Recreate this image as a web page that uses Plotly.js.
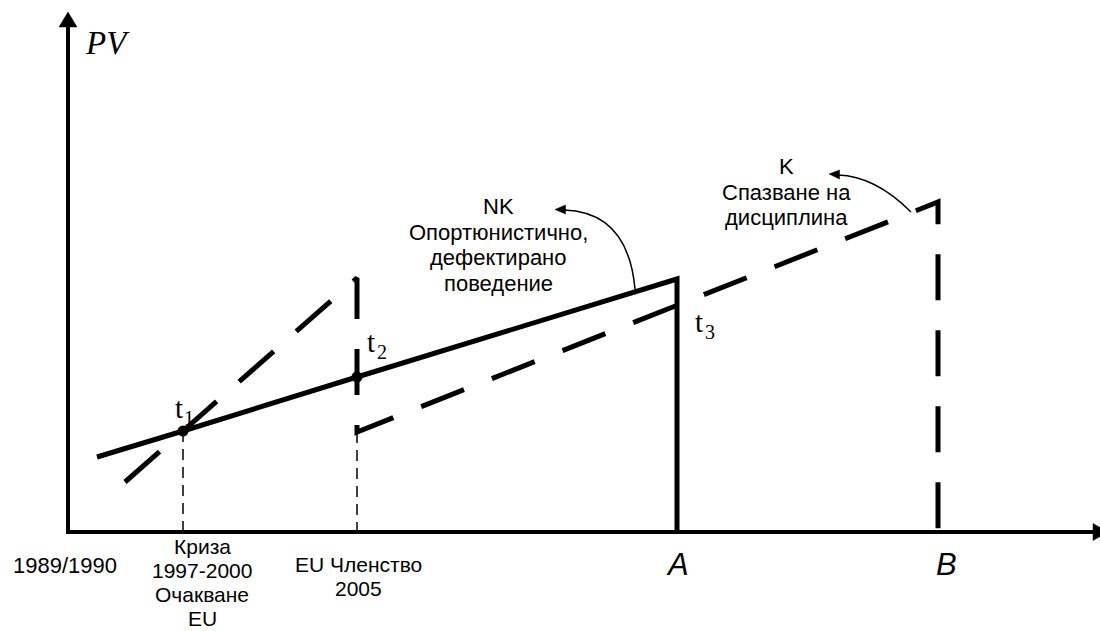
<!DOCTYPE html>
<html>
<head>
<meta charset="utf-8">
<script src="https://cdn.plot.ly/plotly-3.0.1.min.js"></script>
<style>html,body{margin:0;padding:0;background:#fff;}#chart{width:1100px;height:631px;}</style>
</head>
<body>
<div id="chart"></div>
<script>
// ---- data (conceptual units: time on x, PV on y) ----
// Solid path: NK – opportunistic, defecting behaviour
const nkX = [2.9, 11.5, 28.9, 60.9, 60.9];
const nkY = [7.5, 10.1, 15.5, 25.3, 0];
// Dashed path: K – keeping discipline
const kX = [5.7, 28.9, 28.9, 87.0, 87.0];
const kY = [5.0, 25.4, 10.0, 33.0, 0];
// Marked points t1, t2
const ptX = [11.5, 28.9];
const ptY = [10.1, 15.5];
// Thin vertical guides
const guideX = [11.5, 28.9];
const guideTop = [10.1, 10.0];
// Axis extents
const yAxisTop = 52.0;
const xAxisEnd = 104.0;
// Curved arrows (start, control, end)
const nkArrowX = [56.7, 56.0, 49.6];
const nkArrowY = [24.3, 32.0, 32.2];
const kArrowX = [84.3, 80.7, 77.0];
const kArrowY = [32.0, 35.6, 35.7];
// Text
const yTitle = 'PV';
const lbl1989 = ['1989/1990'];
const lblCrisis = ['Криза', '1997-2000', 'Очакване', 'EU'];
const lblEU = ['EU Членство', '2005'];
const lblAB = ['A', 'B'];
const nkText = ['NK', 'Опортюнистично,', 'дефектирано', 'поведение'];
const kText = ['K', 'Спазване на', 'дисциплина'];
const tBase = 't';
const tSubs = ['1', '2', '3'];

// ---- drawing ----
const SANS = 'Liberation Sans, Arial, sans-serif';
const SERIF = 'Liberation Serif, Times New Roman, serif';

const traces = [];
guideX.forEach((gx, i) => {
  traces.push({x: [gx, gx], y: [guideTop[i], 0], mode: 'lines',
    line: {color: '#000', width: 1.5, dash: '11px,7px'}, hoverinfo: 'skip'});
});
traces.push({x: kX, y: kY, mode: 'lines',
  line: {color: '#000', width: 5, dash: '46px,30px'}, hoverinfo: 'skip'});
traces.push({x: nkX, y: nkY, mode: 'lines',
  line: {color: '#000', width: 5}, hoverinfo: 'skip'});
traces.push({x: ptX, y: ptY, mode: 'markers',
  marker: {color: '#000', size: 11}, hoverinfo: 'skip'});

// shapes: axes, arrowheads, curved arrows
function tri(pts) {
  return {type: 'path', xref: 'x', yref: 'y', layer: 'above',
    path: 'M ' + pts.map(p => p[0] + ',' + p[1]).join(' L ') + ' Z',
    fillcolor: '#000', line: {color: '#000', width: 0.5}};
}
function qpath(X, Y) {
  return {type: 'path', xref: 'x', yref: 'y', layer: 'above',
    path: 'M ' + X[0] + ',' + Y[0] + ' Q ' + X[1] + ',' + Y[1] + ' ' + X[2] + ',' + Y[2],
    line: {color: '#000', width: 1.5}};
}
const shapes = [
  {type: 'line', xref: 'x', yref: 'y', x0: 0, y0: -0.2, x1: 0, y1: yAxisTop - 1.4, line: {color: '#000', width: 4}},
  {type: 'line', xref: 'x', yref: 'y', x0: -0.2, y0: 0, x1: xAxisEnd - 1.4, y1: 0, line: {color: '#000', width: 4}},
  tri([[0, yAxisTop], [-0.9, yAxisTop - 1.5], [0.9, yAxisTop - 1.5]]),
  tri([[xAxisEnd, 0], [xAxisEnd - 1.5, 0.85], [xAxisEnd - 1.5, -0.85]]),
  qpath(nkArrowX, nkArrowY),
  qpath(kArrowX, kArrowY),
  tri([[nkArrowX[2] - 0.9, nkArrowY[2] + 0.05], [nkArrowX[2] + 0.15, nkArrowY[2] + 0.5], [nkArrowX[2] + 0.15, nkArrowY[2] - 0.4]]),
  tri([[kArrowX[2] - 0.9, kArrowY[2] + 0.1], [kArrowX[2] + 0.15, kArrowY[2] + 0.5], [kArrowX[2] + 0.15, kArrowY[2] - 0.4]])
];

const ann = [];
function txt(t, x, y, size, family) {
  ann.push({x: x, y: y, xref: 'x', yref: 'y', text: t, showarrow: false,
    xanchor: 'center', yanchor: 'middle', font: {family: family, size: size, color: '#000'}});
}
txt('<i>' + yTitle + '</i>', 3.9, 48.9, 33, SERIF);
txt(lbl1989[0], -0.3, -3.3, 22, SANS);
const crisisY = [-1.4, -3.8, -6.2, -8.6];
lblCrisis.forEach((t, i) => txt(t, 13.4, crisisY[i], 21, SANS));
const euY = [-3.2, -5.6];
lblEU.forEach((t, i) => txt(t, 29.0, euY[i], 21, SANS));
txt('<i>' + lblAB[0] + '</i>', 60.9, -3.2, 31, SANS);
txt('<i>' + lblAB[1] + '</i>', 87.8, -3.2, 31, SANS);
const nkTY = [32.55, 30.0, 27.45, 24.9];
nkText.forEach((t, i) => txt(t, 43.0, nkTY[i], 22, SANS));
const kTY = [36.6, 34.0, 31.45];
kText.forEach((t, i) => txt(t, 71.8, kTY[i], 22, SANS));
// t labels: base letter plus lowered subscript digit
const tPos = [[11.05, 12.4], [30.3, 19.0], [63.1, 21.0]];
tSubs.forEach((s, i) => {
  txt(tBase, tPos[i][0], tPos[i][1], 29, SERIF);
  txt(s, tPos[i][0] + 1.05, tPos[i][1] - 0.95, 20, SERIF);
});

const layout = {
  width: 1100, height: 631,
  margin: {l: 0, r: 0, t: 0, b: 0},
  paper_bgcolor: '#fff', plot_bgcolor: '#fff',
  showlegend: false,
  xaxis: {range: [-6.8, 103.2], visible: false, fixedrange: true},
  yaxis: {range: [-9.9, 53.2], visible: false, fixedrange: true},
  annotations: ann,
  shapes: shapes
};
Plotly.newPlot('chart', traces, layout, {staticPlot: true, displayModeBar: false});
</script>
</body>
</html>
